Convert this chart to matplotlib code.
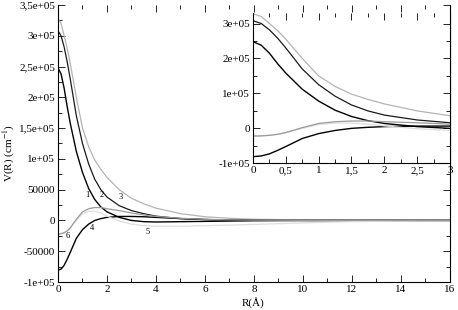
import matplotlib
matplotlib.use('Agg')
import matplotlib.pyplot as plt

plt.rcParams['font.family'] = 'Liberation Serif'
plt.rcParams['mathtext.fontset'] = 'stix'
plt.rcParams['font.size'] = 8

# %% data
R = [0, 0.125, 0.25, 0.375, 0.5, 0.75, 1.0, 1.25, 1.5, 1.75, 2.0, 2.5, 3.0, 3.5, 4,
     5, 6, 7, 8, 10, 12, 14, 16]

v1 = [2.48e5, 2.38e5, 2.15e5, 1.85e5, 1.58e5, 1.12e5, 7.8e4, 5.2e4, 3.4e4, 2.2e4, 1.4e4,
      5000, 0, -2000, -2500, -2000, -1500, -1000, -500, -100, 0, 0, 0]
v2 = [3.08e5, 3.0e5, 2.82e5, 2.58e5, 2.3e5, 1.7e5, 1.25e5, 9.2e4, 6.7e4, 5.0e4, 3.8e4,
      2.4e4, 1.6e4, 1.1e4, 7000, 3000, 1500, 800, 400, 100, 0, 0, 0]
v3 = [3.28e5, 3.2e5, 3.0e5, 2.8e5, 2.55e5, 2.0e5, 1.5e5, 1.2e5, 9.8e4, 8.3e4, 7.0e4,
      5.0e4, 3.6e4, 2.7e4, 2.0e4, 1.1e4, 6000, 3500, 2000, 700, 200, 0, 0]
v4 = [-8.1e4, -7.9e4, -7.3e4, -6.3e4, -5.2e4, -2.9e4, -1.5e4, -6000, 0, 3000, 5000,
      6500, 6500, 6000, 5000, 3000, 1500, 800, 400, 100, 0, 0, 0]
v5 = [-2.2e4, -2.15e4, -2.0e4, -1.7e4, -1.2e4, 0, 1.1e4, 1.5e4, 1.5e4, 1.2e4, 7000,
      -1000, -6000, -8500, -9500, -9500, -8500, -7500, -6500, -4000, -2000, -1000, -500]
v6 = [-2.2e4, -2.15e4, -2.0e4, -1.7e4, -1.2e4, 2000, 1.4e4, 1.9e4, 2.1e4, 2.1e4, 1.9e4,
      1.6e4, 1.2e4, 9000, 6500, 3500, 1800, 1000, 500, 100, 0, 0, 0]

curves = [v1, v2, v3, v4, v5, v6]
colors = ['#000000', '#1a1a1a', '#b4b4b4', '#000000', '#dedede', '#9a9a9a']
widths = [1.0, 0.9, 0.9, 1.0, 0.9, 0.9]

curve_labels = ['1', '2', '3', '4', '5', '6']
label_R = [1.19, 1.8, 2.57, 1.37, 3.66, 0.38]
label_V = [4.1e4, 4.1e4, 3.8e4, -1.15e4, -1.9e4, -2.5e4]

main_yticks = [-1e5, -5e4, 0, 5e4, 1e5, 1.5e5, 2e5, 2.5e5, 3e5, 3.5e5]
main_yticklabels = ['-1e+05', '-50000', '0', '50000', '1e+05', '1,5e+05', '2e+05',
                    '2,5e+05', '3e+05', '3,5e+05']
main_xticks = [0, 2, 4, 6, 8, 10, 12, 14, 16]

inset_xticks = [0, 0.5, 1, 1.5, 2, 2.5, 3]
inset_xticklabels = ['0', '0,5', '1', '1,5', '2', '2,5', '3']
inset_yticks = [-1e5, 0, 1e5, 2e5, 3e5]
inset_yticklabels = ['-1e+05', '0', '1e+05', '2e+05', '3e+05']


def style_axes(ax):
    ax.tick_params(which='both', direction='in', top=True, right=True, labelsize=8, pad=2)
    ax.tick_params(which='major', length=5, width=0.6)
    ax.tick_params(which='minor', length=3, width=0.6)
    for s in ax.spines.values():
        s.set_linewidth(0.8)
    ax.spines['top'].set_visible(False)


fig = plt.figure(figsize=(4.58, 3.10), dpi=100)

# %% main panel
ax = fig.add_axes([0.1266, 0.0903, 0.8559, 0.8936])
for v, c, w in zip(curves, colors, widths):
    ax.plot(R, v, color=c, lw=w)
for t, x, y in zip(curve_labels, label_R, label_V):
    ax.text(x, y, t, fontsize=6, ha='center', va='center')

ax.set_xlim(0, 16)
ax.set_ylim(-1e5, 3.5e5)
ax.set_xticks(main_xticks)
ax.set_xticks(range(0, 17), minor=True)
ax.set_yticks(main_yticks)
ax.set_yticklabels(main_yticklabels)
ax.set_yticks([i * 25000 for i in range(-4, 15)], minor=True)
style_axes(ax)

fig.text(0.553, 0.025, 'R(Å)', ha='center', va='center', fontsize=8)
fig.text(0.02, 0.505, 'V(R) (cm$^{-1}$)', rotation=90, ha='center', va='center', fontsize=8)

# %% inset
axi = fig.add_axes([0.5524, 0.4732, 0.4301, 0.4848])
for v, c, w in zip(curves, colors, widths):
    axi.plot(R, v, color=c, lw=w)
axi.set_xlim(0, 3)
axi.set_ylim(-1e5, 3.3e5)
axi.set_xticks(inset_xticks)
axi.set_xticklabels(inset_xticklabels)
axi.set_xticks([i * 0.25 for i in range(13)], minor=True)
axi.set_yticks(inset_yticks)
axi.set_yticklabels(inset_yticklabels)
axi.set_yticks([i * 5e4 for i in range(-2, 7)], minor=True)
style_axes(axi)

fig.savefig('out.png', dpi=100)
